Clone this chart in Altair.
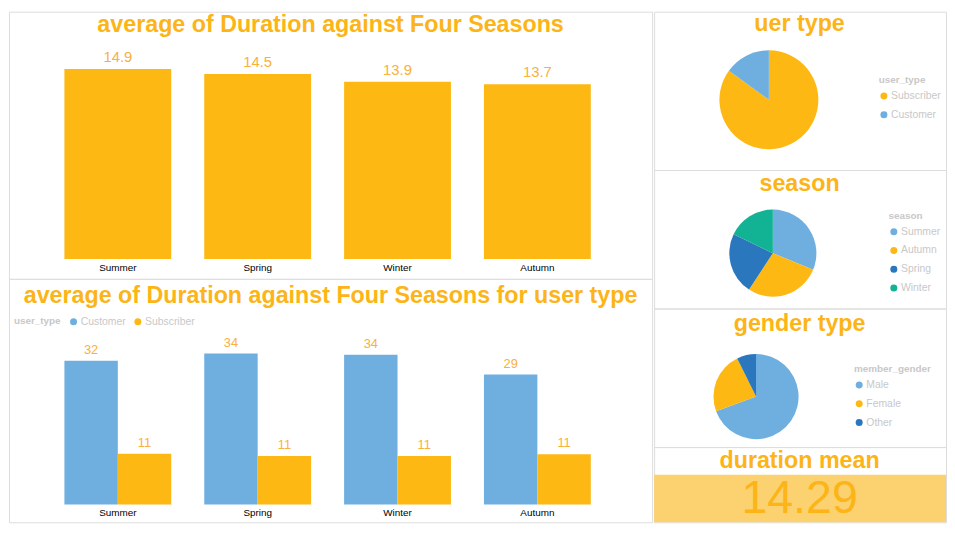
import altair as alt
import pandas as pd

# ---------------- data ----------------
seasons = ["Summer", "Spring", "Winter", "Autumn"]
avg_duration = [14.9, 14.5, 13.9, 13.7]

user_types = ["Customer", "Subscriber"]
customer_avg = [32.3, 33.9, 33.6, 29.2]
subscriber_avg = [11.4, 10.9, 10.9, 11.3]

pie_user_labels = ["Subscriber", "Customer"]
pie_user_share = [85.0, 15.0]

pie_season_labels = ["Summer", "Autumn", "Spring", "Winter"]
pie_season_share = [31.2, 28.0, 22.9, 17.9]

pie_gender_labels = ["Male", "Female", "Other"]
pie_gender_share = [69.4, 23.3, 7.3]

duration_mean = 14.29

panel_titles = [
    "average of Duration against Four Seasons",
    "average of Duration against Four Seasons for user type",
    "uer type",
    "season",
    "gender type",
    "duration mean",
]

# ---------------- style ----------------
ORANGE = "#FDB813"
LBLUE = "#6FAFE0"
DBLUE = "#2A77BE"
TEAL = "#12B294"
LABEL_ORANGE = "#FAB03C"
TITLE_ORANGE = "#FCB416"
BOX_YELLOW = "#FCD270"
LEG_GRAY = "#C8C8C8"
FONT = "Liberation Sans"

LW, RW = 650, 295
H1, H2 = 270, 246
RH = [160, 140, 140, 76]


def legend(x, y, direction="vertical"):
    kw = dict(
        orient="none", legendX=x, legendY=y, direction=direction,
        titleColor=LEG_GRAY, titleFontSize=10, titleFontWeight="bold", titleFont=FONT,
        labelColor=LEG_GRAY, labelFontSize=10.5, labelFont=FONT,
        symbolType="circle", symbolSize=50, symbolStrokeWidth=0, symbolOpacity=1,
        rowPadding=8, titlePadding=6, labelOffset=2,
    )
    if direction == "horizontal":
        kw.update(titleOrient="left", columnPadding=6, titlePadding=7)
    return alt.Legend(**kw)


def title_layer(text, x, y):
    return alt.Chart(pd.DataFrame({"t": [text]})).mark_text(
        font=FONT, fontSize=23.5, fontWeight="bold", color=TITLE_ORANGE,
        align="center", baseline="middle",
    ).encode(x=alt.value(x), y=alt.value(y), text="t:N")


xband = alt.Scale(domain=seasons, range=[56, 588], paddingInner=0.236, paddingOuter=0)

# ---------------- panel 1 ----------------
df1 = pd.DataFrame({"season": seasons, "avg": avg_duration})
X1 = alt.X("season:N", sort=seasons, scale=xband, axis=None)
base1 = alt.Chart(df1).encode(x=X1)
y1 = alt.Y("avg:Q", scale=alt.Scale(domain=[0, 19.38], range=[250, 0]), axis=None)
bars1 = base1.mark_bar(color=ORANGE).encode(y=y1)
vals1 = base1.mark_text(baseline="bottom", dy=-4, fontSize=15, color=LABEL_ORANGE, font=FONT).encode(
    y=y1, text=alt.Text("avg:Q", format=".1f"))
xl1 = base1.mark_text(baseline="middle", fontSize=10, color="black", font=FONT).encode(
    y=alt.value(259), text="season:N")
p1 = alt.layer(bars1, vals1, xl1, title_layer(panel_titles[0], 325, 14)).properties(width=LW, height=H1)

# ---------------- panel 2 ----------------
df2 = pd.DataFrame({
    "season": seasons * 2,
    "user_type": ["Customer"] * 4 + ["Subscriber"] * 4,
    "avg": customer_avg + subscriber_avg,
})
X2 = alt.X("season:N", sort=seasons, scale=xband, axis=None)
y2 = alt.Y("avg:Q", scale=alt.Scale(domain=[0, 50.67], range=[228, 0]), axis=None)
xo = alt.XOffset("user_type:N", sort=user_types)
bars2 = alt.Chart(df2).mark_bar().encode(
    x=X2, xOffset=xo, y=y2,
    color=alt.Color("user_type:N", scale=alt.Scale(domain=user_types, range=[LBLUE, ORANGE]),
                    legend=legend(5, 38, "horizontal")),
)
vals2 = alt.Chart(df2).mark_text(baseline="bottom", dy=-4, fontSize=13, color=LABEL_ORANGE, font=FONT).encode(
    x=X2, xOffset=xo, y=y2, text=alt.Text("avg:Q", format=".0f"))
xl2 = alt.Chart(df1).mark_text(baseline="middle", fontSize=10, color="black", font=FONT).encode(
    x=X2, y=alt.value(237), text="season:N")
p2 = alt.layer(bars2, vals2, xl2, title_layer(panel_titles[1], 325, 17)).properties(width=LW, height=H2)


# ---------------- pies ----------------
def pie(field, labels, shares, colors, cx, cy, r, title, ty, lx, ly, h):
    df = pd.DataFrame({field: labels, "share": shares, "idx": list(range(len(labels)))})
    arc = alt.Chart(df).mark_arc(radius=r).encode(
        theta=alt.Theta("share:Q", stack=True),
        order=alt.Order("idx:Q"),
        color=alt.Color(f"{field}:N", scale=alt.Scale(domain=labels, range=colors),
                        legend=legend(lx, ly)),
        x=alt.value(cx), y=alt.value(cy),
    )
    return alt.layer(arc, title_layer(title, 147, ty)).properties(width=RW, height=h)


pie1 = pie("user_type", pie_user_labels, pie_user_share, [ORANGE, LBLUE],
           116, 89, 50, panel_titles[2], 12, 227, 64, RH[0])
pie2 = pie("season", pie_season_labels, pie_season_share, [LBLUE, ORANGE, DBLUE, TEAL],
           120, 84, 44, panel_titles[3], 14, 237, 41, RH[1])
pie3 = pie("member_gender", pie_gender_labels, pie_gender_share, [LBLUE, ORANGE, DBLUE],
           103, 89, 43, panel_titles[4], 16, 202, 56, RH[2])

# ---------------- duration mean ----------------
dm = pd.DataFrame({"v": [duration_mean]})
box = alt.Chart(dm).mark_rect(color=BOX_YELLOW).encode(
    x=alt.value(0), x2=alt.value(RW), y=alt.value(28), y2=alt.value(RH[3]))
num = alt.Chart(dm).mark_text(fontSize=47, color=TITLE_ORANGE, font=FONT, align="center", baseline="middle").encode(
    x=alt.value(147), y=alt.value(53), text=alt.Text("v:Q", format=".2f"))
p6 = alt.layer(box, num, title_layer(panel_titles[5], 147, 14)).properties(width=RW, height=RH[3])

ind = dict(color="independent", x="independent", y="independent")
left = alt.vconcat(p1, p2, spacing=0, bounds="flush").resolve_scale(**ind)
right = alt.vconcat(pie1, pie2, pie3, p6, spacing=0, bounds="flush").resolve_scale(**ind)

chart = (
    alt.hconcat(left, right, spacing=0)
    .resolve_scale(**ind)
    .properties(padding=0)
    .configure_view(stroke="#DDDDDD", strokeWidth=1)
    .configure(font=FONT)
)

chart.save("out.html", embed_options={"renderer": "svg", "actions": False})
